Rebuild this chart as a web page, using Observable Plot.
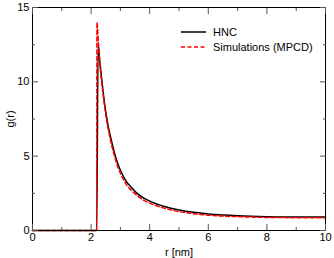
<!DOCTYPE html>
<html><head><meta charset="utf-8">
<script src="https://cdn.jsdelivr.net/npm/d3@7"></script>
<script src="https://cdn.jsdelivr.net/npm/@observablehq/plot@0.6"></script>
<style>
body{margin:0;background:#fff;}
#c{position:relative;width:334px;height:258px;}
svg{font-family:"Liberation Sans",Arial,sans-serif;}
</style></head>
<body><div id="c"></div>
<script>
const rHNC = [0, 2.18, 2.19, 2.24, 2.3, 2.4, 2.5, 2.6, 2.7, 2.8, 2.9, 3.0, 3.2, 3.4, 3.6, 3.8, 4.0, 4.5, 5.0, 5.5, 6.0, 6.5, 7, 8, 9, 10];
const gHNC = [0, 0, 0, 12.5, 11.3, 9.5, 8.0, 6.85, 6.0, 5.2, 4.55, 4.05, 3.3, 2.85, 2.45, 2.18, 1.98, 1.62, 1.38, 1.22, 1.11, 1.04, 0.99, 0.93, 0.91, 0.90];
const rSim = [0, 2.18, 2.19, 2.2, 2.25, 2.3, 2.4, 2.5, 2.6, 2.7, 2.8, 2.9, 3.0, 3.2, 3.4, 3.6, 3.8, 4.0, 4.5, 5.0, 5.5, 6.0, 6.5, 7, 8, 9, 10];
const gSim = [0, 0, 0, 14.0, 12.6, 11.2, 9.3, 7.8, 6.65, 5.75, 5.0, 4.35, 3.85, 3.1, 2.65, 2.3, 2.03, 1.84, 1.5, 1.27, 1.13, 1.03, 0.97, 0.93, 0.88, 0.86, 0.85];
const seriesNames = ["HNC", "Simulations (MPCD)"];
const xMajor = [0, 2, 4, 6, 8, 10];
const xMinor = [1, 3, 5, 7, 9];
const yMajor = [0, 5, 10, 15];
const yMinor = [2.5, 7.5, 12.5];

const hnc = rHNC.map((r, i) => ({r, g: gHNC[i]}));
const sim = rSim.map((r, i) => ({r, g: gSim[i]}));
const blank = () => "";
const tickColor = "#555";

const chart = Plot.plot({
  width: 334, height: 258,
  marginLeft: 32, marginRight: 9, marginTop: 7, marginBottom: 28,
  style: {fontFamily: '"Liberation Sans", Arial, sans-serif', fontSize: "11px", background: "white", color: "black"},
  x: {domain: [0, 10]},
  y: {domain: [0, 15]},
  marks: [
    Plot.line(hnc, {x: "r", y: "g", stroke: "black", strokeWidth: 1.5, curve: "monotone-x"}),
    Plot.line(sim, {x: "r", y: "g", stroke: "#ff0000", strokeWidth: 1.5, strokeDasharray: "4,2.5", curve: "monotone-x"}),
    Plot.frame({stroke: "black", strokeWidth: 1}),
    // labels
    Plot.axisX({anchor: "bottom", ticks: xMajor, tickSize: 0, tickPadding: 3, label: "r [nm]", labelAnchor: "center", labelArrow: "none", labelOffset: 25}),
    Plot.axisY({anchor: "left", ticks: yMajor, tickSize: 0, tickPadding: 3, label: "g(r)", labelAnchor: "center", labelArrow: "none", labelOffset: 26}),
    // inward ticks
    Plot.axisX({anchor: "bottom", ticks: xMajor, tickSize: -6, tickFormat: blank, label: null, stroke: tickColor}),
    Plot.axisX({anchor: "bottom", ticks: xMinor, tickSize: -3, tickFormat: blank, label: null, stroke: tickColor}),
    Plot.axisX({anchor: "top", ticks: xMajor, tickSize: -6, tickFormat: blank, label: null, stroke: tickColor}),
    Plot.axisX({anchor: "top", ticks: xMinor, tickSize: -3, tickFormat: blank, label: null, stroke: tickColor}),
    Plot.axisY({anchor: "left", ticks: yMajor, tickSize: -6, tickFormat: blank, label: null, stroke: tickColor}),
    Plot.axisY({anchor: "left", ticks: yMinor, tickSize: -3, tickFormat: blank, label: null, stroke: tickColor}),
    Plot.axisY({anchor: "right", ticks: yMajor, tickSize: -6, tickFormat: blank, label: null, stroke: tickColor}),
    Plot.axisY({anchor: "right", ticks: yMinor, tickSize: -3, tickFormat: blank, label: null, stroke: tickColor})
  ]
});
document.getElementById("c").appendChild(chart);

// legend
const svg = d3.select(chart);
const lg = svg.append("g").attr("font-size", "11px").attr("text-anchor", "start")
  .attr("font-family", '"Liberation Sans", Arial, sans-serif');
const styles = [{stroke: "black", dash: null}, {stroke: "#ff0000", dash: "4,2.5"}];
seriesNames.forEach((name, i) => {
  const y = 32 + i * 15;
  lg.append("line").attr("x1", 181).attr("x2", 206).attr("y1", y).attr("y2", y)
    .attr("stroke", styles[i].stroke).attr("stroke-width", 1.5).attr("stroke-dasharray", styles[i].dash);
  lg.append("text").attr("x", 213).attr("y", y).attr("dy", "0.35em").attr("fill", "black").text(name);
});
</script></body></html>
